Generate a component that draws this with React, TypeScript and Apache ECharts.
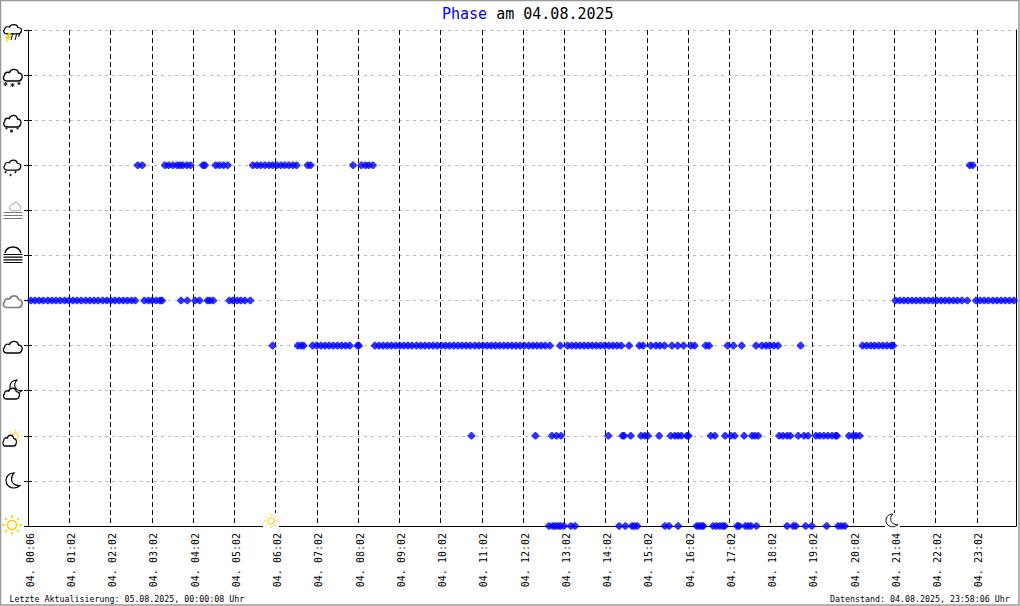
import React, { useEffect, useRef } from "react";
import * as echarts from "echarts";

const tickLabels = ["04. 00:06","04. 01:02","04. 02:02","04. 03:02","04. 04:02","04. 05:02","04. 06:02","04. 07:02","04. 08:02","04. 09:02","04. 10:02","04. 11:02","04. 12:02","04. 13:02","04. 14:02","04. 15:02","04. 16:02","04. 17:02","04. 18:02","04. 19:02","04. 20:02","04. 21:04","04. 22:02","04. 23:02"];

// x = sample slot (about 10 slots per hour), y = phase level (0 sun ... 11 thunderstorm)
const rainSlots = [26.6,27.7,33.2,34.1,35.1,36.1,36.8,37.5,38.5,39.4,42.4,42.9,45.5,46.4,47.4,48.4,54.5,55.5,56.4,57.4,58.4,59.3,60.3,61.3,62.2,63.2,64.2,65.1,67.8,68.5,78.8,80.8,81.8,82.6,83.6,228.3,229.0];
const overcastSlots = [0.7,1.7,2.7,3.7,4.8,5.8,6.8,7.8,8.9,9.9,10.9,11.9,12.9,14,15,16,17,18.1,19.1,20.1,21.1,22.1,23.1,24.1,25.1,26,28.2,29.2,30.1,31.1,32.0,32.5,37.1,38.6,40.5,41.6,43.5,44.1,44.9,48.8,49.7,50.7,51.6,52.6,53.9,210.3,211.3,212.3,213.3,214.3,215.3,216.3,217.3,218.3,219.3,220.3,221.3,222.3,223.3,224.3,225.3,226.4,227.7,229.8,230.8,231.8,232.8,233.9,234.9,235.9,236.9,237.9,239.0];
const cloudySlots = [59.3,65.4,66.2,66.8,69,70,71,72,73,74,75,76,77,78,79.9,80.2,84.1,85.1,86.1,87.1,88.1,89.1,90.1,91.1,92.1,93.1,94.2,95.2,96.2,97.2,98.2,99.2,100.2,101.2,102.2,103.2,104.2,105.2,106.2,107.2,108.3,109.3,110.3,111.3,112.3,113.3,114.3,115.3,116.3,117.3,118.3,119.3,120.3,121.4,122.4,123.4,124.4,125.4,126.5,129,130.8,131.8,132.8,133.8,134.8,135.8,136.8,137.8,138.8,139.8,140.8,141.8,142.8,143.8,145.7,148.2,149.1,151,152.2,153.2,154.3,156.1,157.5,158.9,160.7,161.6,164.3,165.1,169.6,171,173,176.5,177.9,178.9,179.8,180.8,181.8,187.3,202.3,203.3,204.3,205.2,206.2,207.2,208.2,209.2,209.7];
const partlySlots = [107.5,123,127,128.1,129.2,140.7,144.1,144.5,146.1,148.6,149.5,150.3,153,155.8,156.8,157.6,158.4,159.7,160.1,165.5,166.5,169,170.4,171.3,173.6,175.5,176.2,177,182.1,183,184,184.8,186.7,188.1,189.1,191,191.9,192.9,193.9,194.9,195.8,196.1,199,200,200.7,201.6];
const sunSlots = [126.3,127.2,127.8,128.5,129.1,129.9,131.6,132.6,143.3,144.8,146.4,147,147.7,154.4,155.4,157.6,162.1,162.7,163.3,163.7,166.1,166.9,167.7,168.4,168.9,171.9,172.4,173.9,174.6,175.3,176.6,184,185.5,186.1,188.5,190,193.6,196.4,197.2,198];

const rowData = [
  { level: 8, slots: rainSlots },
  { level: 5, slots: overcastSlots },
  { level: 4, slots: cloudySlots },
  { level: 2, slots: partlySlots },
  { level: 0, slots: sunSlots },
];

const G = echarts.graphic as any;
G.registerShape("wxCloud", G.extendPath("M4 13 C1 13 0 9 2 7.5 C2 4.5 5 3.5 7 4.5 C8.5 0.5 15 0 16 5 C19 5 20.5 7.5 19.5 10 C19 12 18 13 16 13 Z", {}));
G.registerShape("wxSun", G.extendPath("M4.5 0 A4.5 4.5 0 1 1 -4.5 0 A4.5 4.5 0 1 1 4.5 0 Z M7 0 L10 0 M-7 0 L-10 0 M0 7 L0 10 M0 -7 L0 -10 M5 5 L7 7 M-5 -5 L-7 -7 M5 -5 L7 -7 M-5 5 L-7 7", {}));
G.registerShape("wxMoon", G.extendPath("M8 0 C3 0 0 3.5 0 7.5 C0 12 3.5 15 8 15 C10.5 15 12.5 14 14 12.5 C9 13 5.5 10 5.5 6.5 C5.5 3.5 6.5 1.5 8 0 Z", {}));
G.registerShape("wxFog", G.extendPath("M0 0 L19 0 M0 3 L19 3 M0 6 L19 6", {}));
G.registerShape("wxFogFour", G.extendPath("M0 0 L19 0 M0 2.7 L19 2.7 M0 5.4 L19 5.4 M0 8 L19 8", {}));
G.registerShape("wxArc", G.extendPath("M0 6 C1 2 4 0 8 0 C12 0 15 3 16 6", {}));
G.registerShape("wxBolt", G.extendPath("M4 0 L1 5 L3 5 L1 9 L6 3.5 L4 3.5 L5.5 0 Z", {}));
G.registerShape("wxStreaks", G.extendPath("M3 0 L1 7 M7 0 L5 7 M10 0 L8.5 4", {}));
G.registerShape("wxDrops", G.extendPath("M3 0 L2 2 M8 3 L7 5 M13 0 L12 2", {}));
G.registerShape("wxDots", G.extendPath("M2 0 L2 2 M1 1 L3 1 M7 2 L7 5 M5.5 3.5 L8.5 3.5 M6 2.5 L8 4.5 M8 2.5 L6 4.5 M13 0 L13 2 M12 1 L14 1", {}));
G.registerShape("wxStars", G.extendPath("M2.5 0 L2.5 4 M0.5 2 L4.5 2 M1 0.5 L4 3.5 M4 0.5 L1 3.5 M9.5 1 L9.5 5 M7.5 3 L11.5 3 M8 1.5 L11 4.5 M11 1.5 L8 4.5 M16 0 L16 3 M14.5 1.5 L17.5 1.5 M15 0.5 L17 2.5 M17 0.5 L15 2.5", {}));

const YEL = "#ffcc00";
const shape = (type: string, x: number, y: number, stroke: string, lineWidth = 1.3, fill = "none", sx = 1, sy = 1) => ({
  type, x, y, scaleX: sx, scaleY: sy, z: 20, silent: true,
  style: { stroke, lineWidth, fill },
});
const rect = (x: number, y: number, width: number, height: number) => ({
  type: "rect", z: 15, silent: true, shape: { x, y, width, height }, style: { fill: "#fff" },
});
const label = (text: string, x: number, y: number) => ({
  type: "text", x, y, z: 20, silent: true,
  style: { text, fill: "#000", font: '8.3px "DejaVu Sans Mono"', textVerticalAlign: "middle" },
});

const graphicElements = [
  { type: "rect", z: 30, silent: true, shape: { x: 0.5, y: 0.5, width: 1018.5, height: 604.5 }, style: { fill: "none", stroke: "#999", lineWidth: 1.5 } },
  shape("wxCloud", 2.7, 23.5, "#000", 1.4, "none", 0.95, 0.8),
  shape("wxBolt", 5, 33, YEL, 0.6, YEL),
  shape("wxStreaks", 10, 33, "#222", 1.1),
  shape("wxCloud", 2.4, 68, "#000", 1.4),
  shape("wxStars", 3, 82, "#222", 1),
  shape("wxCloud", 2.8, 114, "#000", 1.4, "none", 0.92, 1),
  shape("wxDots", 4.5, 127.5, "#222", 1.1),
  shape("wxCloud", 3, 159, "#000", 1.4, "none", 0.9, 0.85),
  shape("wxDrops", 3, 171, "#222", 1.7),
  shape("wxCloud", 9, 201, "#777", 1, "none", 0.6, 0.75),
  shape("wxFog", 3.5, 212.5, "#777", 1.1),
  shape("wxArc", 5, 247, "#000", 1.3),
  shape("wxFogFour", 3.5, 254.5, "#000", 1.2),
  shape("wxCloud", 2.4, 294.5, "#808080", 1.7),
  shape("wxCloud", 2.4, 340, "#000", 1.3),
  shape("wxMoon", 10, 380, "#000", 1.3, "#fff", 0.85, 0.85),
  shape("wxCloud", 2.7, 387, "#000", 1.5, "#fff", 0.85, 0.92),
  shape("wxSun", 15, 436, YEL, 1.3, "none", 0.7, 0.7),
  shape("wxCloud", 2.2, 434, "#000", 1.6, "#fff", 0.72, 0.92),
  shape("wxMoon", 6, 473, "#000", 1.2),
  shape("wxSun", 12, 525, YEL, 1.6),
  rect(263, 513, 16, 14.5),
  shape("wxSun", 271, 521, YEL, 1.3, "none", 0.72, 0.72),
  rect(885, 513, 15, 14.5),
  shape("wxMoon", 886, 514, "#000", 1.1, "none", 0.85, 0.85),
  label("Letzte Aktualisierung: 05.08.2025, 00:00:08 Uhr", 9.5, 599),
  label("Datenstand: 04.08.2025, 23:58:06 Uhr", 830, 599),
];

const levelAxis = (extra: any) => ({
  type: "value", min: 0, max: 11, interval: 1,
  axisLabel: { show: false },
  ...extra,
});

export default function App() {
  const ref = useRef<HTMLDivElement>(null);
  useEffect(() => {
    document.body.style.margin = "0";
    const chart = echarts.init(ref.current!, undefined, { renderer: "svg" });
    chart.setOption({
      animation: false,
      backgroundColor: "#fff",
      title: {
        text: "{a|Phase}{b| am 04.08.2025}",
        left: 442, top: 6, padding: 0,
        textStyle: {
          fontWeight: "normal",
          rich: {
            a: { fontFamily: "DejaVu Sans Mono", fontSize: 15, fontWeight: "normal", color: "#0000ff" },
            b: { fontFamily: "DejaVu Sans Mono", fontSize: 15, fontWeight: "normal", color: "#000" },
          },
        },
      },
      grid: { left: 28, right: 4, top: 30, bottom: 80, containLabel: false },
      xAxis: {
        type: "value", min: 0, max: 239.5, interval: 10,
        axisLine: { onZero: false, lineStyle: { color: "#000", width: 1 } },
        axisTick: { show: false },
        axisLabel: {
          rotate: 90, margin: 7, color: "#000",
          fontFamily: "DejaVu Sans Mono", fontSize: 10,
          showMinLabel: true, showMaxLabel: false, hideOverlap: false,
          verticalAlign: "top", lineHeight: 4,
          formatter: (v: number) => tickLabels[v / 10] ?? "",
        },
        splitLine: { show: true, lineStyle: { color: "#000", width: 1, type: [5, 3] } },
      },
      yAxis: [
        levelAxis({
          axisLine: { show: true, lineStyle: { color: "#000", width: 1 } },
          axisTick: { show: true, length: 4, lineStyle: { color: "#000" } },
          splitLine: { show: true, lineStyle: { color: "#bbb", width: 1, type: [3, 4] } },
        }),
        levelAxis({
          position: "left",
          axisLine: { show: false },
          axisTick: { show: true, inside: true, length: 4, lineStyle: { color: "#000" } },
          splitLine: { show: false },
        }),
        levelAxis({
          position: "right",
          axisLine: { show: true, lineStyle: { color: "#000", width: 1 } },
          axisTick: { show: false },
          splitLine: { show: false },
        }),
      ],
      series: rowData.map((row) => ({
        type: "scatter",
        symbol: "path://M3.3 0 L4.7 0 L8 3.3 L8 4.7 L4.7 8 L3.3 8 L0 4.7 L0 3.3 Z",
        symbolSize: 7.6,
        clip: false,
        itemStyle: { color: "#0000ff" },
        data: row.slots.map((s) => [s, row.level]),
      })),
      graphic: graphicElements,
    });
    return () => chart.dispose();
  }, []);
  return <div ref={ref} style={{ width: 1020, height: 606 }} />;
}
